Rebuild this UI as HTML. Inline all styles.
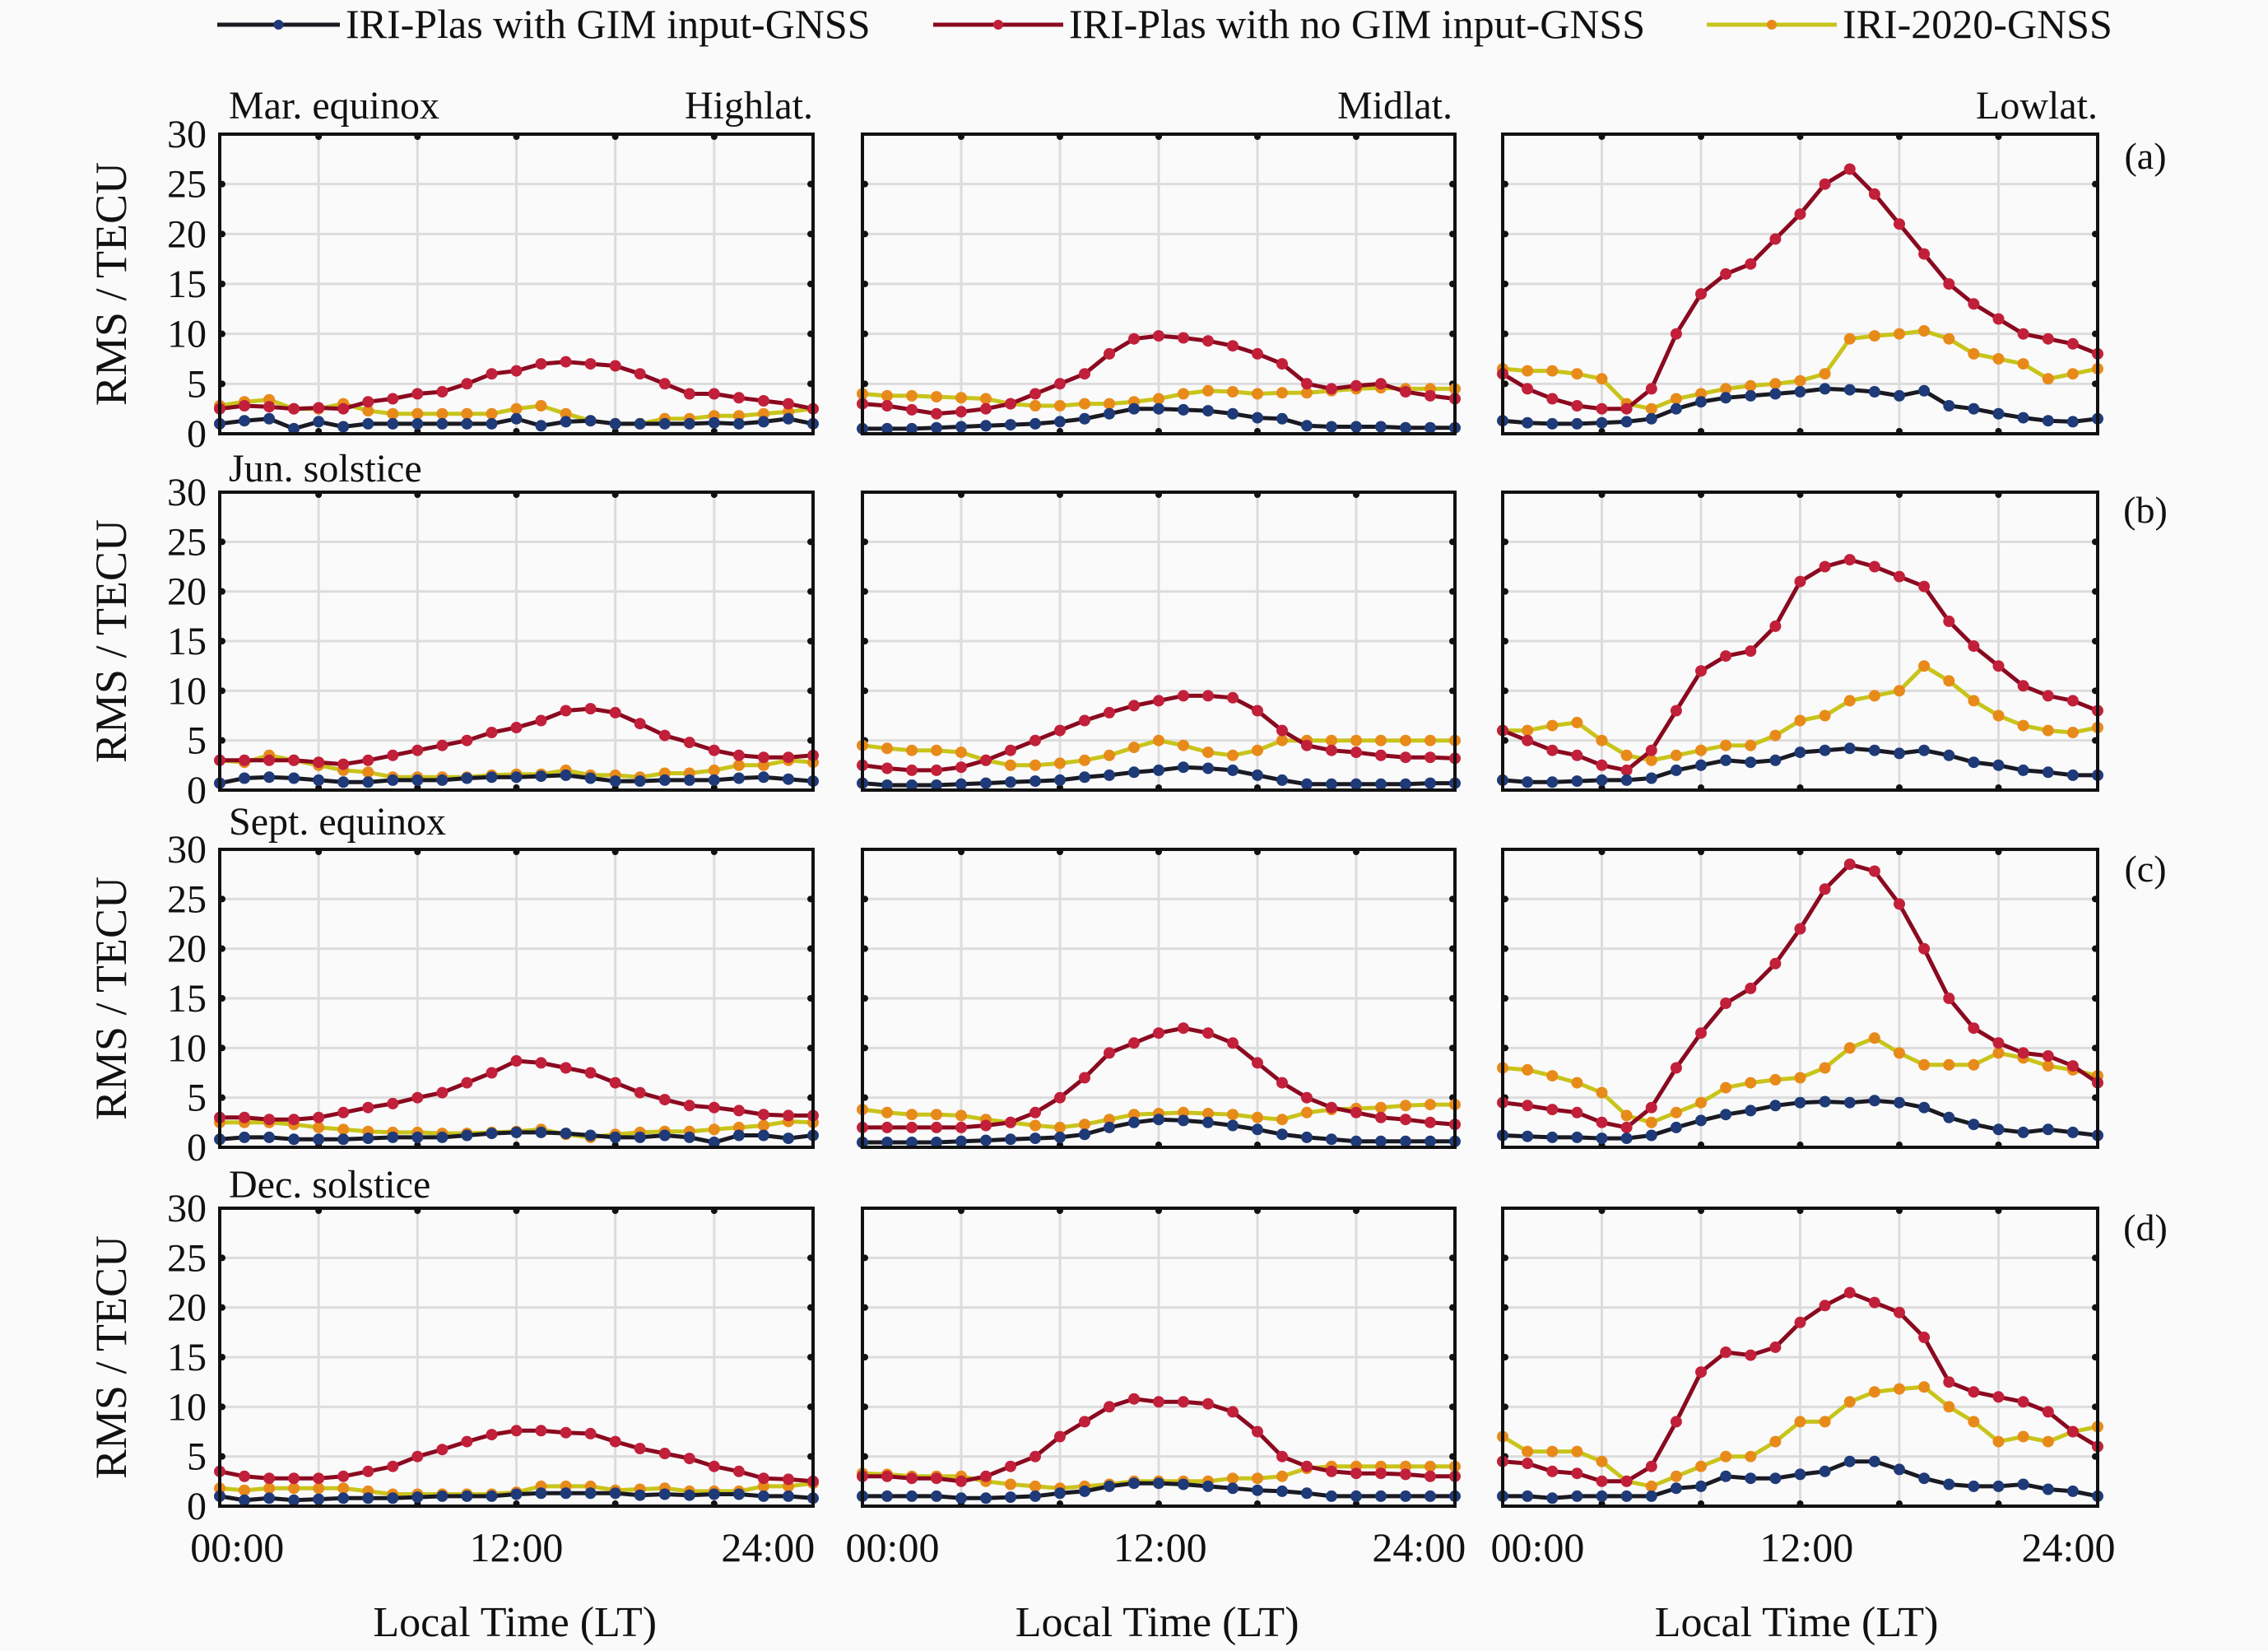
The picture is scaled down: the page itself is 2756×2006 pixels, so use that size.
<!DOCTYPE html>
<html><head><meta charset="utf-8"><style>
html,body{margin:0;padding:0;background:#fafafa;}
svg{display:block;}
text{font-family:"Liberation Serif","DejaVu Serif",serif;}
</style></head><body>
<svg id="s" width="2756" height="2006" viewBox="0 0 2756 2006" xmlns="http://www.w3.org/2000/svg" font-family="Liberation Serif, serif"></svg>
<script>
const S=1.7577;
const cols=[[267,988],[1048,1768],[1826,2549]];
const rows=[[163,527],[598,960],[1032,1394],[1468,1830]];
const D=[
[[[1,1.3,1.5,0.5,1.2,0.7,1,1,1,1,1,1,1.5,0.8,1.2,1.3,1,1,1,1,1.1,1,1.2,1.5,1],
[2.5,2.8,2.7,2.5,2.6,2.5,3.2,3.5,4,4.2,5,6,6.3,7,7.2,7,6.8,6,5,4,4,3.6,3.3,3,2.5],
[2.8,3.2,3.4,2.5,2.5,3,2.3,2,2,2,2,2,2.5,2.8,2,1.3,1,1,1.5,1.5,1.8,1.8,2,2.2,2.5]],
[[0.5,0.5,0.5,0.6,0.7,0.8,0.9,1,1.2,1.5,2,2.5,2.5,2.4,2.3,2,1.6,1.5,0.8,0.7,0.7,0.7,0.6,0.6,0.6],
[3,2.8,2.4,2,2.2,2.5,3,4,5,6,8,9.5,9.8,9.6,9.3,8.8,8,7,5,4.5,4.8,5,4.2,3.8,3.5],
[4,3.8,3.8,3.7,3.6,3.5,3,2.8,2.8,3,3,3.2,3.5,4,4.3,4.2,4,4.1,4.1,4.3,4.5,4.6,4.5,4.5,4.5]],
[[1.3,1.1,1,1,1.1,1.2,1.5,2.5,3.2,3.6,3.8,4,4.2,4.5,4.4,4.2,3.8,4.3,2.8,2.5,2,1.6,1.3,1.2,1.5],
[6,4.5,3.5,2.8,2.5,2.5,4.5,10,14,16,17,19.5,22,25,26.5,24,21,18,15,13,11.5,10,9.5,9,8],
[6.5,6.3,6.3,6,5.5,3,2.5,3.5,4,4.5,4.8,5,5.3,6,9.5,9.8,10,10.3,9.5,8,7.5,7,5.5,6,6.5]]],
[[[0.7,1.2,1.3,1.2,1,0.8,0.8,1,1,1,1.2,1.3,1.3,1.4,1.5,1.2,0.9,0.9,1,1,1,1.2,1.3,1.1,0.9],
[3,3,3,3,2.8,2.6,3,3.5,4,4.5,5,5.8,6.3,7,8,8.2,7.8,6.7,5.5,4.8,4,3.5,3.3,3.3,3.5],
[3,2.8,3.5,3,2.5,2,1.8,1.3,1.3,1.3,1.3,1.5,1.6,1.6,2,1.5,1.5,1.3,1.7,1.7,2,2.5,2.5,3,2.8]],
[[0.7,0.5,0.5,0.5,0.6,0.7,0.8,0.9,1,1.3,1.5,1.8,2,2.3,2.2,2,1.5,1,0.6,0.6,0.6,0.6,0.6,0.7,0.7],
[2.5,2.2,2,2,2.3,3,4,5,6,7,7.8,8.5,9,9.5,9.5,9.3,8,6,4.5,4,3.8,3.5,3.3,3.3,3.2],
[4.5,4.2,4,4,3.8,3,2.5,2.5,2.7,3,3.5,4.3,5,4.5,3.8,3.5,4,5,5,5,5,5,5,5,5]],
[[1,0.8,0.8,0.9,1,1,1.2,2,2.5,3,2.8,3,3.8,4,4.2,4,3.7,4,3.5,2.8,2.5,2,1.8,1.5,1.5],
[6,5,4,3.5,2.5,2,4,8,12,13.5,14,16.5,21,22.5,23.2,22.5,21.5,20.5,17,14.5,12.5,10.5,9.5,9,8],
[6,6,6.5,6.8,5,3.5,3,3.5,4,4.5,4.5,5.5,7,7.5,9,9.5,10,12.5,11,9,7.5,6.5,6,5.8,6.3]]],
[[[0.8,1,1,0.8,0.8,0.8,0.9,1,1,1,1.2,1.4,1.5,1.5,1.4,1.2,1,1,1.2,1,0.5,1.2,1.2,0.9,1.2],
[3,3,2.8,2.8,3,3.5,4,4.4,5,5.5,6.5,7.5,8.7,8.5,8,7.5,6.5,5.5,4.8,4.2,4,3.7,3.3,3.2,3.2],
[2.5,2.5,2.5,2.3,2,1.8,1.6,1.5,1.5,1.4,1.4,1.5,1.6,1.8,1.3,1,1.3,1.5,1.6,1.6,1.8,2,2.2,2.6,2.5]],
[[0.5,0.5,0.5,0.5,0.6,0.7,0.8,0.9,1,1.3,2,2.5,2.8,2.7,2.5,2.2,1.8,1.3,1,0.8,0.6,0.6,0.6,0.6,0.6],
[2,2,2,2,2,2.2,2.5,3.5,5,7,9.5,10.5,11.5,12,11.5,10.5,8.5,6.5,5,4,3.5,3,2.8,2.5,2.3],
[3.8,3.5,3.3,3.3,3.2,2.8,2.5,2.2,2,2.3,2.8,3.3,3.4,3.5,3.4,3.3,3,2.8,3.5,3.8,3.9,4,4.2,4.3,4.3]],
[[1.2,1.1,1,1,0.9,0.9,1.2,2,2.7,3.3,3.7,4.2,4.5,4.6,4.5,4.7,4.5,4,3,2.3,1.8,1.5,1.8,1.5,1.2],
[4.5,4.2,3.8,3.5,2.5,2,4,8,11.5,14.5,16,18.5,22,26,28.5,27.8,24.5,20,15,12,10.5,9.5,9.2,8.2,6.5],
[8,7.8,7.2,6.5,5.5,3.2,2.5,3.5,4.5,6,6.5,6.8,7,8,10,11,9.5,8.3,8.3,8.3,9.5,9,8.2,7.8,7.2]]],
[[[1,0.6,0.8,0.6,0.7,0.8,0.8,0.8,0.9,1,1,1,1.2,1.3,1.3,1.3,1.3,1.1,1.2,1.1,1.2,1.2,1,1,0.8],
[3.5,3,2.8,2.8,2.8,3,3.5,4,5,5.7,6.5,7.2,7.6,7.6,7.4,7.3,6.5,5.8,5.3,4.8,4,3.5,2.8,2.7,2.5],
[1.8,1.6,1.8,1.8,1.8,1.8,1.5,1.2,1.2,1.2,1.2,1.2,1.4,2,2,2,1.6,1.7,1.8,1.5,1.5,1.5,2,2,2.3]],
[[1,1,1,1,0.8,0.8,0.9,1,1.3,1.5,2,2.3,2.3,2.2,2,1.8,1.6,1.5,1.3,1,1,1,1,1,1],
[3,3,2.8,2.8,2.5,3,4,5,7,8.5,10,10.8,10.5,10.5,10.3,9.5,7.5,5,4,3.5,3.3,3.3,3.2,3,3],
[3.3,3.2,3,3,3,2.5,2.2,2,1.8,2,2.2,2.5,2.5,2.5,2.5,2.8,2.8,3,3.8,4,4,4,4,4,4]],
[[1,1,0.8,1,1,1,1,1.8,2,3,2.8,2.8,3.2,3.5,4.5,4.5,3.7,2.8,2.2,2,2,2.2,1.7,1.5,1],
[4.5,4.3,3.5,3.3,2.5,2.5,4,8.5,13.5,15.5,15.2,16,18.5,20.2,21.5,20.5,19.5,17,12.5,11.5,11,10.5,9.5,7.5,6],
[7,5.5,5.5,5.5,4.5,2.5,2,3,4,5,5,6.5,8.5,8.5,10.5,11.5,11.8,12,10,8.5,6.5,7,6.5,7.5,8]]]
];
const lc=['#1a1a22','#8a0a20','#c8c41c'];
const mc=['#1f3a78','#c2203a','#e88a1a'];
let o='';
const T=(x,y,t,sz,anc,extra)=>`<text x="${x}" y="${y}" font-family="Liberation Serif, serif" font-size="${sz}" text-anchor="${anc||'start'}" fill="#111" ${extra||''}>${t}</text>`;
const leg=[[264,413,420,'IRI-Plas with GIM input-GNSS'],[1134,1292,1299,'IRI-Plas with no GIM input-GNSS'],[2074,2232,2239,'IRI-2020-GNSS']];
leg.forEach((l,i)=>{o+=`<line x1="${l[0]}" y1="30" x2="${l[1]}" y2="30" stroke="${lc[i]}" stroke-width="5"/><circle cx="${(l[0]+l[1])/2}" cy="30" r="6" fill="${mc[i]}"/>`;o+=T(l[2],46,l[3],50);});
const seasons=[['Mar. equinox',144],['Jun. solstice',585],['Sept. equinox',1014],['Dec. solstice',1455]];
seasons.forEach(s=>o+=T(278,s[1],s[0],48));
o+=T(988,144,'Highlat.',48,'end')+T(1765,144,'Midlat.',48,'end')+T(2549,144,'Lowlat.',48,'end');
['(a)','(b)','(c)','(d)'].forEach((p,i)=>o+=T(2607,[190,620,1056,1492][i]+15,p,46,'middle'));
rows.forEach((r,ri)=>{
 const [y0,y1]=r,h=y1-y0;
 o+=T(0,0,'RMS / TECU',54,'middle',`transform="translate(153,${(y0+y1)/2}) rotate(-90)"`);
 for(let v=0;v<=30;v+=5){o+=T(251,y1-v/30*h+16,v,48,'end');}
 cols.forEach((c,ci)=>{
  const [x0,x1]=c,w=x1-x0;
  for(let k=1;k<6;k++){const x=x0+k*w/6;o+=`<line x1="${x}" y1="${y0}" x2="${x}" y2="${y1}" stroke="#dcdcdc" stroke-width="3"/>`;o+=`<circle cx="${x}" cy="${y0+3}" r="4" fill="#111"/><circle cx="${x}" cy="${y1-3}" r="4" fill="#111"/>`;}
  for(let k=1;k<6;k++){const y=y1-k*h/6;o+=`<line x1="${x0}" y1="${y}" x2="${x1}" y2="${y}" stroke="#dcdcdc" stroke-width="3"/>`;o+=`<circle cx="${x0+3}" cy="${y}" r="4" fill="#111"/><circle cx="${x1-3}" cy="${y}" r="4" fill="#111"/>`;}
  for(let si=2;si>=0;si--){
   const d=D[ri][ci][si];
   const pts=d.map((v,i)=>[x0+i*w/24,y1-v/30*h]);
   o+=`<polyline fill="none" stroke="${lc[si]}" stroke-width="5" points="${pts.map(p=>p[0].toFixed(1)+','+p[1].toFixed(1)).join(' ')}"/>`;
   pts.forEach(p=>o+=`<circle cx="${p[0].toFixed(1)}" cy="${p[1].toFixed(1)}" r="7" fill="${mc[si]}"/>`);
  }
  o+=`<rect x="${x0}" y="${y0}" width="${w}" height="${h}" fill="none" stroke="#111" stroke-width="4"/>`;
 });
});
const xl=[[164,357,531],[617,802,981],[1063,1249,1430]];
xl.forEach((c,ci)=>{['00:00','12:00','24:00'].forEach((t,k)=>o+=T(c[k]*S,1897,t,50,'middle'));o+=T([356,800,1242][ci]*S,1988,'Local Time (LT)',52,'middle');});
document.getElementById('s').innerHTML=o;
</script>
</body></html>
